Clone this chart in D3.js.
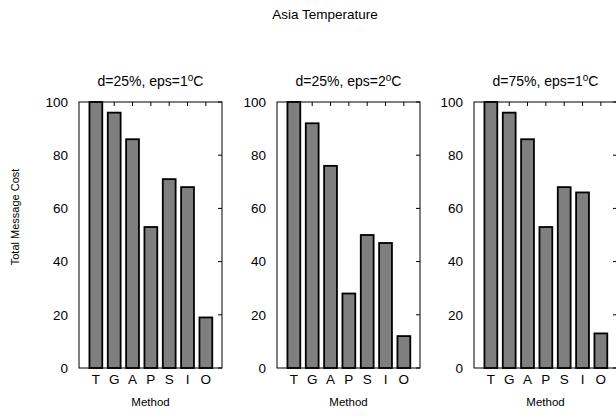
<!DOCTYPE html>
<html>
<head>
<meta charset="utf-8">
<script src="https://cdn.jsdelivr.net/npm/d3@7"></script>
<style>
  body { margin: 0; background: #fff; }
  text { font-family: "Liberation Sans", Arial, sans-serif; fill: #000; }
</style>
</head>
<body>
<div id="app"></div>
<script>
const methods = ["T", "G", "A", "P", "S", "I", "O"];
const panelDist = ["25%", "25%", "75%"];
const panelEps = ["1", "2", "1"];
const costD25E1 = [100, 96, 86, 53, 71, 68, 19];
const costD25E2 = [100, 92, 76, 28, 50, 47, 12];
const costD75E1 = [100, 96, 86, 53, 68, 66, 13];
const yTicks = [0, 20, 40, 60, 80, 100];

const panelSeries = [costD25E1, costD25E2, costD75E1];

const width = 616;
const height = 418;
const panelLeft = [79, 277, 474];
const panelWidth = 143;
const plotTop = 102;
const plotBottom = 368;

const svg = d3.select("#app").append("svg")
  .attr("width", width)
  .attr("height", height);

svg.append("text")
  .attr("x", 325)
  .attr("y", 19)
  .attr("text-anchor", "middle")
  .attr("font-size", 13.5)
  .text("Asia Temperature");

svg.append("text")
  .attr("transform", `translate(19, 217) rotate(-90)`)
  .attr("text-anchor", "middle")
  .attr("font-size", 11)
  .text("Total Message Cost");

const y = d3.scaleLinear().domain([0, 100]).range([plotBottom, plotTop]);

panelSeries.forEach((values, p) => {
  const left = panelLeft[p];
  const x = d3.scaleLinear()
    .domain([-0.92, 6.88])
    .range([left, left + panelWidth]);
  const step = x(1) - x(0);
  const g = svg.append("g");

  // subtitle with superscript degree "o"
  const sub = g.append("text")
    .attr("x", left + panelWidth / 2)
    .attr("y", 86)
    .attr("text-anchor", "middle")
    .attr("font-size", 14);
  sub.append("tspan").text(`d=${panelDist[p]}, eps=${panelEps[p]}`);
  sub.append("tspan").attr("dy", -5).attr("font-size", 10).text("o");
  sub.append("tspan").attr("dy", 5).text("C");

  // frame
  g.append("rect")
    .attr("x", left)
    .attr("y", plotTop)
    .attr("width", panelWidth)
    .attr("height", plotBottom - plotTop)
    .attr("fill", "none")
    .attr("stroke", "#000")
    .attr("stroke-width", 1);

  // mirrored ticks: right side (y) and top (x)
  g.selectAll(".rtick")
    .data(yTicks)
    .enter()
    .append("line")
    .attr("x1", left + panelWidth - 4)
    .attr("x2", left + panelWidth)
    .attr("y1", (d) => y(d))
    .attr("y2", (d) => y(d))
    .attr("stroke", "#000");

  g.selectAll(".ttick")
    .data(methods)
    .enter()
    .append("line")
    .attr("x1", (d, i) => x(i))
    .attr("x2", (d, i) => x(i))
    .attr("y1", plotTop)
    .attr("y2", plotTop + 4)
    .attr("stroke", "#000");

  // y tick labels
  g.selectAll(".ylab")
    .data(yTicks)
    .enter()
    .append("text")
    .attr("x", left - 11)
    .attr("y", (d) => y(d))
    .attr("dy", "0.35em")
    .attr("text-anchor", "end")
    .attr("font-size", 13.5)
    .text((d) => d);

  // bars
  g.selectAll(".bar")
    .data(values)
    .enter()
    .append("rect")
    .attr("x", (d, i) => x(i) - step * 0.35)
    .attr("width", step * 0.7)
    .attr("y", (d) => y(d))
    .attr("height", (d) => y(0) - y(d))
    .attr("fill", "#7f7f7f")
    .attr("stroke", "#000")
    .attr("stroke-width", 1.8);

  // x tick labels
  g.selectAll(".xlab")
    .data(methods)
    .enter()
    .append("text")
    .attr("x", (d, i) => x(i))
    .attr("y", 384)
    .attr("text-anchor", "middle")
    .attr("font-size", 13.5)
    .text((d) => d);

  g.append("text")
    .attr("x", left + panelWidth / 2)
    .attr("y", 406)
    .attr("text-anchor", "middle")
    .attr("font-size", 11.5)
    .text("Method");
});
</script>
</body>
</html>
